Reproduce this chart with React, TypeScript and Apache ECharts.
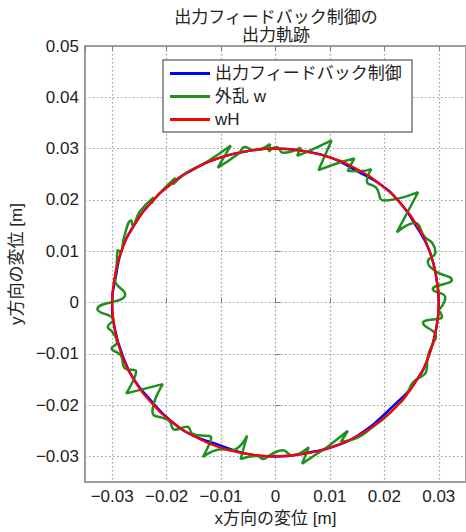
import React, { useEffect, useRef } from "react";
import * as echarts from "echarts";

const titleLines = ["出力フィードバック制御の", "出力軌跡"];
const seriesNames = ["出力フィードバック制御", "外乱 w", "wH"];
const xAxisName = "x方向の変位 [m]";
const yAxisName = "y方向の変位 [m]";
const xRange = [-0.035, 0.035];
const yRange = [-0.035, 0.05];

// reference trajectory wH (red)
const wHPoints: number[][] = [
  [0.03, 0], [0.0295, 0.0052], [0.0282, 0.0103], [0.026, 0.015], [0.023, 0.0193],
  [0.0193, 0.023], [0.015, 0.026], [0.0103, 0.0282], [0.0052, 0.0295], [0, 0.03],
  [-0.0052, 0.0295], [-0.0103, 0.0282], [-0.015, 0.026], [-0.0193, 0.023], [-0.023, 0.0193],
  [-0.026, 0.015], [-0.0282, 0.0103], [-0.0295, 0.0052], [-0.03, 0], [-0.0295, -0.0052],
  [-0.0282, -0.0103], [-0.026, -0.015], [-0.023, -0.0193], [-0.0193, -0.023], [-0.015, -0.026],
  [-0.0103, -0.0282], [-0.0052, -0.0295], [0, -0.03], [0.0052, -0.0295], [0.0103, -0.0282],
  [0.015, -0.026], [0.0193, -0.023], [0.023, -0.0193], [0.026, -0.015], [0.0282, -0.0103],
  [0.0295, -0.0052], [0.03, 0], [0.0295, 0.0052],
];

// output feedback control (blue)
const outputPoints: number[][] = [
  [0.03, 0], [0.0295, 0.0052], [0.0282, 0.0103], [0.0262, 0.0143], [0.023, 0.0193],
  [0.0193, 0.023], [0.0148, 0.0257], [0.0103, 0.0282], [0.0052, 0.0295], [0, 0.03],
  [-0.0052, 0.0295], [-0.0103, 0.0282], [-0.015, 0.026], [-0.0193, 0.023], [-0.023, 0.0193],
  [-0.026, 0.015], [-0.0282, 0.0103], [-0.0293, 0.0052], [-0.03, 0], [-0.0295, -0.0052],
  [-0.0278, -0.0111], [-0.026, -0.015], [-0.0232, -0.0187], [-0.0193, -0.023], [-0.015, -0.026],
  [-0.0113, -0.0274], [-0.0052, -0.0295], [0, -0.03], [0.0073, -0.029], [0.0103, -0.0282],
  [0.015, -0.026], [0.0218, -0.0200], [0.026, -0.015], [0.0282, -0.0103], [0.0295, -0.0052],
  [0.03, 0], [0.0295, 0.0052],
];

// disturbed trajectory w (green)
const disturbedPoints: number[][] = [
  [0.03, -0.0015], [0.0312, 0.001], [0.0289, 0.0026], [0.0324, 0.0044], [0.0293, 0.0062],
  [0.028, 0.008], [0.0294, 0.0098], [0.0288, 0.0116], [0.0274, 0.0128], [0.0256, 0.0155],
  [0.0223, 0.0137], [0.0262, 0.0215], [0.0199, 0.0199], [0.0185, 0.0224], [0.0168, 0.0236],
  [0.0176, 0.026], [0.0156, 0.0256], [0.0133, 0.0257], [0.0145, 0.0281], [0.0118, 0.0273],
  [0.0079, 0.0258], [0.0103, 0.0316], [0.0061, 0.0295], [0.004, 0.0286], [0.0046, 0.0302],
  [0.0014, 0.0292], [0.0002, 0.0303], [-0.0012, 0.0294], [-0.001, 0.0309], [-0.004, 0.0297],
  [-0.0056, 0.0303], [-0.0068, 0.029], [-0.0106, 0.0263], [-0.0082, 0.0306], [-0.0125, 0.0275],
  [-0.015, 0.0261], [-0.0168, 0.025], [-0.0188, 0.023], [-0.0184, 0.0243], [-0.0212, 0.0214],
  [-0.0228, 0.0193], [-0.0224, 0.0205], [-0.025, 0.0176], [-0.0262, 0.015], [-0.0265, 0.016],
  [-0.0278, 0.0128], [-0.0284, 0.0097], [-0.0289, 0.0102], [-0.0292, 0.0068], [-0.0295, 0.0045],
  [-0.0276, 0.0016], [-0.0327, -0.0013], [-0.0298, -0.0034], [-0.0308, -0.0047], [-0.0299, -0.0058],
  [-0.0291, -0.0078], [-0.0301, -0.0089], [-0.0284, -0.0103], [-0.0277, -0.0128], [-0.0256, -0.0134],
  [-0.0274, -0.0177], [-0.0207, -0.0159], [-0.0226, -0.0213], [-0.0196, -0.023], [-0.0185, -0.0248],
  [-0.0162, -0.0242], [-0.0152, -0.0256], [-0.0118, -0.0263], [-0.0133, -0.0301], [-0.0098, -0.0286],
  [-0.008, -0.0288], [-0.0052, -0.0259], [-0.0064, -0.0305], [-0.0034, -0.0299], [-0.0022, -0.0305],
  [-0.0008, -0.0296], [0.0014, -0.0288], [0.003, -0.0298], [0.0061, -0.0282], [0.0049, -0.0314],
  [0.0082, -0.0291], [0.0097, -0.028], [0.0133, -0.025], [0.012, -0.0272], [0.015, -0.0264],
  [0.0178, -0.0243], [0.02, -0.0225], [0.0222, -0.0203], [0.024, -0.0182], [0.0253, -0.0155],
  [0.0277, -0.0134], [0.028, -0.0105], [0.0289, -0.008], [0.0295, -0.0066], [0.0271, -0.004],
  [0.0306, -0.0027], [0.03, -0.0015],
];

const FONT = "'Liberation Sans', 'Noto Sans CJK JP', sans-serif";
const TEXT = "#222";
const FRAME = "#808080";

const fmt = (v: number) => {
  const k = Math.round(v * 100);
  if (Math.abs(v * 100 - k) > 1e-6) return "";
  if (k === 0) return "0";
  return (k < 0 ? "\u2212" : "") + (Math.abs(k) / 100).toFixed(2);
};

const gridLine = { show: true, lineStyle: { type: [1.5, 2.5], color: "#9a9a9a", width: 1.2 } };
const tick = { show: true, inside: true, length: 5, lineStyle: { color: FRAME, width: 1 } };
const labelBase = { fontSize: 17, color: TEXT, fontFamily: FONT };

export default function App() {
  const ref = useRef<HTMLDivElement>(null);
  useEffect(() => {
    if (!ref.current) return;
    const chart = echarts.init(ref.current, undefined, { renderer: "svg" });
    chart.setOption({
      animation: false,
      backgroundColor: "#fff",
      graphic: [
        { type: "text", x: 276, y: 17, style: { text: titleLines[0], textAlign: "center", textVerticalAlign: "middle", fontSize: 17, fontFamily: FONT, fill: TEXT } },
        { type: "text", x: 276, y: 35, style: { text: titleLines[1], textAlign: "center", textVerticalAlign: "middle", fontSize: 17, fontFamily: FONT, fill: TEXT } },
      ],
      grid: { left: 80, top: 46, right: -5, bottom: 47, show: true, borderColor: FRAME, borderWidth: 1.5, backgroundColor: "#fff" },
      legend: {
        orient: "vertical", left: 163, top: 60, itemWidth: 40, itemHeight: 3, itemGap: 6, icon: "rect",
        padding: [5, 10, 4, 7], borderColor: "#777", borderWidth: 1.5, backgroundColor: "#fff",
        textStyle: { ...labelBase, lineHeight: 17 }, data: seriesNames,
      },
      xAxis: [
        {
          type: "value", min: xRange[0], max: xRange[1], splitNumber: 7, position: "bottom",
          axisLine: { show: false }, axisTick: tick, splitLine: gridLine,
          axisLabel: { ...labelBase, formatter: fmt, margin: 6, showMinLabel: false, showMaxLabel: false },
          name: xAxisName, nameLocation: "middle", nameGap: 24, nameTextStyle: { ...labelBase },
        },
        {
          type: "value", min: xRange[0], max: xRange[1], splitNumber: 7, position: "top",
          axisLine: { show: false }, axisTick: tick, splitLine: { show: false }, axisLabel: { show: false },
        },
      ],
      yAxis: [
        {
          type: "value", min: yRange[0], max: yRange[1], splitNumber: 8, position: "left",
          axisLine: { show: false }, axisTick: tick, splitLine: gridLine,
          axisLabel: { ...labelBase, formatter: fmt, margin: 6, showMinLabel: false },
          name: yAxisName, nameLocation: "middle", nameGap: 50, nameTextStyle: { ...labelBase },
        },
      ],
      series: [
        { name: seriesNames[0], type: "line", data: outputPoints, symbol: "none", showSymbol: false, smooth: 0.5, lineStyle: { color: "#0000ff", width: 2.5 }, itemStyle: { color: "#0000ff" } },
        { name: seriesNames[1], type: "line", data: disturbedPoints, symbol: "none", showSymbol: false, smooth: 0.5, lineStyle: { color: "#1f8f1f", width: 2.5 }, itemStyle: { color: "#1f8f1f" } },
        { name: seriesNames[2], type: "line", data: wHPoints, symbol: "none", showSymbol: false, smooth: 0.5, lineStyle: { color: "#ff0000", width: 2.2 }, itemStyle: { color: "#ff0000" } },
      ],
    });
    return () => chart.dispose();
  }, []);
  return <div ref={ref} style={{ width: 466, height: 532, position: "absolute", left: 0, top: 0 }} />;
}
